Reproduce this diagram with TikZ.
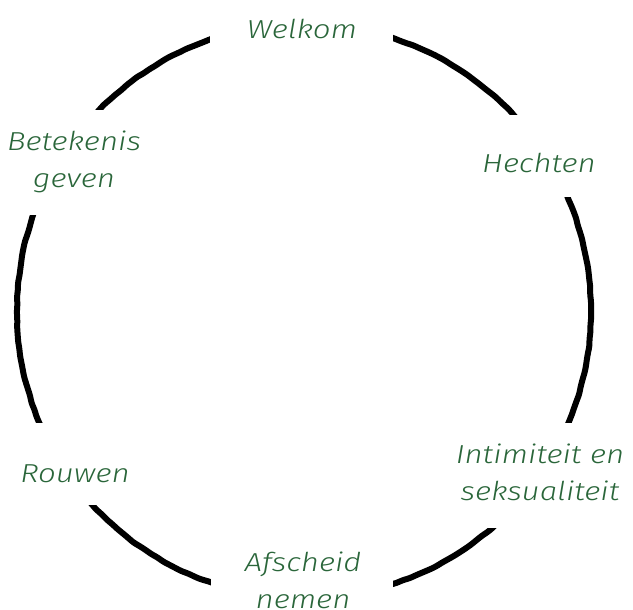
\documentclass[tikz,border=0pt]{standalone}
\usepackage{fontspec}
\newfontfamily\hand{Fira Sans Light}[FakeStretch=1.2]
\usetikzlibrary{decorations.pathmorphing}
\definecolor{labgreen}{RGB}{42,102,58}
\tikzset{
  ring/.style={line width=6pt, black, decorate,
    decoration={random steps, segment length=7pt, amplitude=0.5pt}, rounded corners=3pt},
  mask/.style={fill=white, draw=none},
  lab/.style={text=labgreen, font=\hand\itshape\fontsize{26}{37}\selectfont, align=center, inner sep=0pt}
}
\begin{document}
\begin{tikzpicture}[x=1pt, y=-1pt]
\useasboundingbox (0,0) rectangle (633,610);
\draw[ring] (304,311) circle [radius=287];
% gaps behind the labels
\fill[mask] (210,0) rectangle (393,62);
\fill[mask] (0,110) rectangle (150,215);
\fill[mask] (465,115) rectangle (633,197);
\fill[mask] (0,423) rectangle (140,505);
\fill[mask] (440,423) rectangle (633,528);
\fill[mask] (211,545) rectangle (393,610);
% labels
\node[lab] (welkom) at (302,29) {Welkom};
\node[lab] (betekenis) at (74,162) {Betekenis\\geven};
\node[lab] (hechten) at (539,163) {Hechten};
\node[lab] (rouwen) at (75,474) {Rouwen};
\node[lab] (intimiteit) at (540,472) {Intimiteit en\\seksualiteit};
\node[lab] (afscheid) at (303,580) {Afscheid\\nemen};
\end{tikzpicture}
\end{document}
